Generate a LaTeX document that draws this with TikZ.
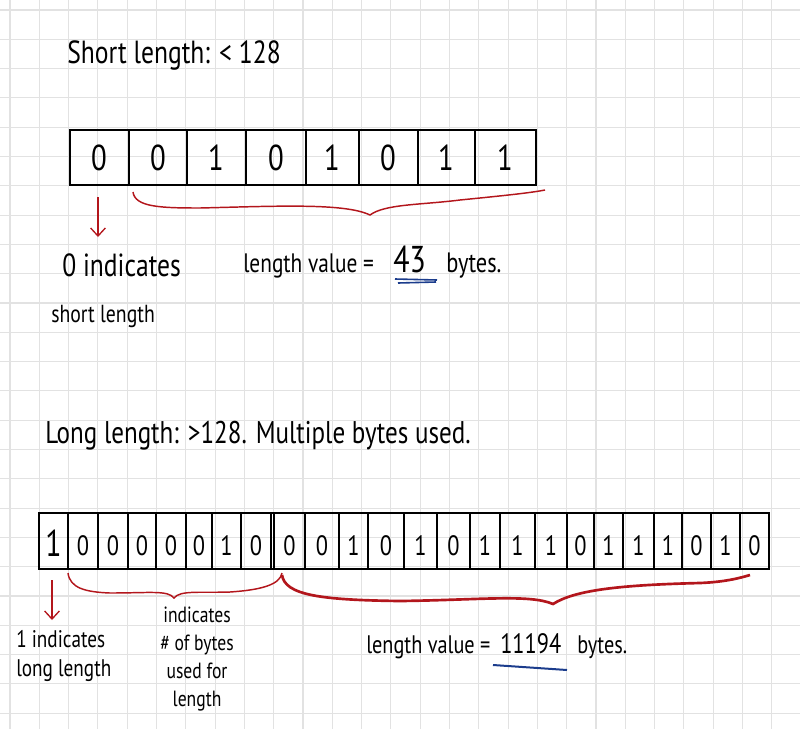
\documentclass[tikz,border=0pt]{standalone}
\usepackage{fontspec}
\setmainfont{PT Sans}[FakeStretch=0.8]
\usetikzlibrary{arrows.meta}

\definecolor{inkred}{HTML}{B3161C}
\definecolor{inkblue}{HTML}{1B3C8C}
\definecolor{gridgray}{HTML}{E2E2E2}

\tikzset{
  hand/.style={anchor=base west, inner sep=0pt},
  bit/.style={anchor=center, inner sep=0pt},
  cellbox/.style={line width=1.1pt},
  pointer/.style={inkred, line width=1pt, -{Straight Barb[length=6pt,width=11pt]}},
  bracket/.style={inkred, line width=1.1pt},
}

\begin{document}
\begin{tikzpicture}[x=0.75pt,y=-0.75pt]
  \useasboundingbox (0,0) rectangle (800,729);
  %% squared paper
  \foreach \i in {0,...,26}
    \draw[gridgray, line width=0.8pt] ({10+29.3*\i},0) -- ({10+29.3*\i},729);
  \foreach \i in {0,...,24}
    \draw[gridgray, line width=0.8pt] (0,{10+29.3*\i}) -- (800,{10+29.3*\i});

  %% short form
  \node[hand, font=\fontsize{24}{24}\selectfont] (shorttitle) at (67,63) {Short length: < 128};
  \draw[cellbox] (70,130) rectangle (536,185);
  \foreach \x in {129,187,246,306,359,418,475}
    \draw[cellbox] (\x,130) -- (\x,185);
  \foreach \cx/\b [count=\i] in {99/0,158/0,216/1,276/0,332/1,388/0,446/1,505/1}
    \node[bit, font=\fontsize{27}{27}\selectfont] (s\i) at (\cx,158) {\b};
  \coordinate (sfrom) at (98,197);
  \coordinate (sto) at (98,237);
  \draw[pointer] (sfrom) -- (sto);
  \draw[bracket] (133,192) .. controls (135,207) and (160,208) .. (200,208)
    .. controls (280,206) and (345,203) .. (370,215)
    .. controls (385,204) and (420,205) .. (460,200)
    .. controls (500,196) and (530,193) .. (545,190);
  \node[hand, font=\fontsize{24}{24}\selectfont] (sflag) at (62,276) {0 indicates};
  \node[hand, font=\fontsize{18.5}{18.5}\selectfont] (sflagb) at (51,322) {short length};
  \node[hand, font=\fontsize{20}{20}\selectfont] (svalue) at (243,272) {length value =};
  \node[hand, font=\fontsize{28}{28}\selectfont] (snum) at (393,272) {43};
  \node[hand, font=\fontsize{21}{21}\selectfont] (sunit) at (446,272) {bytes.};
  \draw[inkblue, line width=1.2pt] (snum.base west) ++(2,7) -- ++(42,1);
  \draw[inkblue, line width=1.2pt] (snum.base west) ++(5,11) -- ++(38,-1);

  %% long form
  \node[hand, font=\fontsize{23.5}{23.5}\selectfont] (longtitle) at (45,443) {Long length: >128. Multiple bytes used.};
  \draw[cellbox] (39,513) rectangle (769,569);
  \foreach \x in {68,98,128,156,186,212,241,271,274,305,339,368,404,437,470,500,535,567,594,623,654,682,711,740}
    \draw[cellbox] (\x,513) -- (\x,569);
  \foreach \cx/\b [count=\i] in {83/0,113/0,142/0,171/0,199/0,226.5/1,256/0,289.5/0,322/0,353.5/1,386/0,420.5/1,453.5/0,485/1,517.5/1,551/1,580.5/0,608.5/1,638.5/1,668/1,696.5/0,725.5/1,754.5/0}
    \node[bit, font=\fontsize{21}{21}\selectfont] (l\i) at (\cx,546) {\b};
  \node[bit, font=\fontsize{28}{28}\selectfont] (lfirst) at (53.5,543) {1};
  \coordinate (lfrom) at (52,580);
  \coordinate (lto) at (52,620);
  \draw[pointer] (lfrom) -- (lto);
  \draw[bracket] (68,573) .. controls (70,588) and (85,592) .. (110,593)
    .. controls (150,593) and (168,590) .. (174,598)
    .. controls (180,590) and (200,593) .. (230,592)
    .. controls (260,590) and (280,585) .. (282,573);
  \draw[bracket, line width=2pt] (282,575) .. controls (285,595) and (320,600) .. (400,601)
    .. controls (480,600) and (530,594) .. (553,604)
    .. controls (575,590) and (620,585) .. (700,583)
    .. controls (725,582) and (740,578) .. (750,575);
  \node[hand, font=\fontsize{18}{21.5}\selectfont, align=left, anchor=north west] (lflag) at (16,630) {1 indicates\\long length};
  \node[font=\fontsize{16.5}{21}\selectfont, align=center, anchor=north, inner sep=0pt] (lcount) at (197,607) {indicates\\\# of bytes\\used for\\length};
  \node[hand, font=\fontsize{19}{19}\selectfont] (lvalue) at (366,653) {length value =};
  \node[hand, font=\fontsize{21}{21}\selectfont] (lnum) at (500,653) {11194};
  \node[hand, font=\fontsize{19}{19}\selectfont] (lunit) at (577,653) {bytes.};
  \draw[inkblue, line width=1.5pt] (lnum.base west) ++(-7,12) -- ++(74,5);
\end{tikzpicture}
\end{document}
